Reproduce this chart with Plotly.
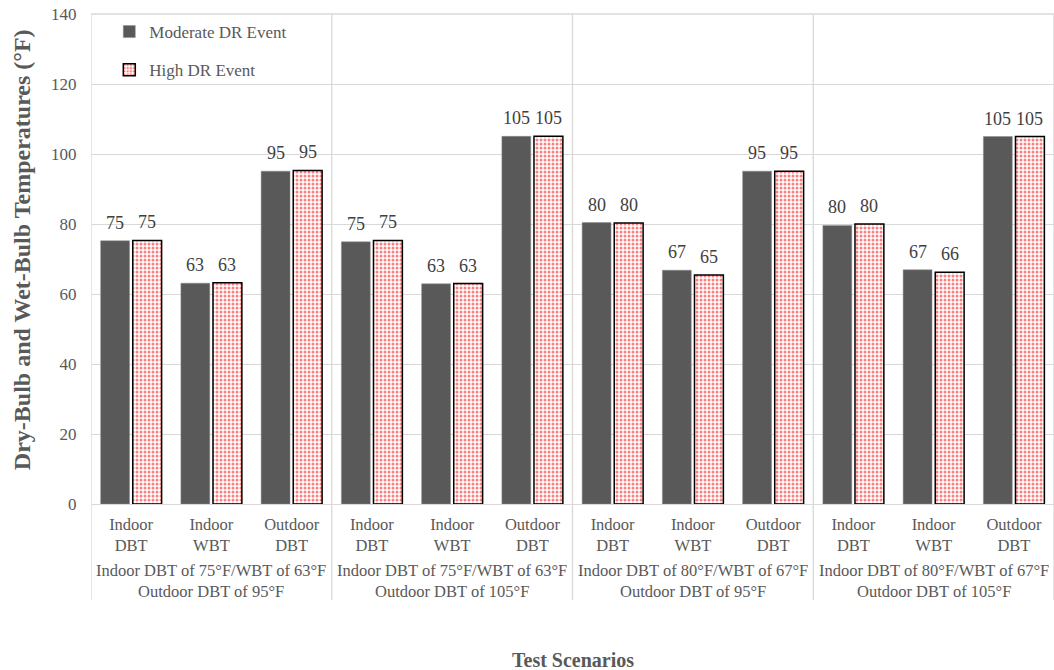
import plotly.graph_objects as go

groups = [
    "Indoor DBT of 75°F/WBT of 63°F<br>Outdoor DBT of 95°F",
    "Indoor DBT of 75°F/WBT of 63°F<br>Outdoor DBT of 105°F",
    "Indoor DBT of 80°F/WBT of 67°F<br>Outdoor DBT of 95°F",
    "Indoor DBT of 80°F/WBT of 67°F<br>Outdoor DBT of 105°F",
]
categories = ["Indoor<br>DBT", "Indoor<br>WBT", "Outdoor<br>DBT"]

moderate = [75.2, 63.1, 95.1, 74.9, 62.9, 105.05, 80.4, 66.8, 95.1, 79.6, 66.9, 105.0]
high = [75.3, 63.2, 95.3, 75.3, 63.0, 105.1, 80.3, 65.4, 95.1, 80.0, 66.2, 105.0]
moderate_labels = ["75", "63", "95", "75", "63", "105", "80", "67", "95", "80", "67", "105"]
high_labels = ["75", "63", "95", "75", "63", "105", "80", "65", "95", "80", "66", "105"]

FONT = "Liberation Serif"
GRAY = "#595959"
GRID = "#d9d9d9"

x = list(range(len(moderate)))
ticktext = categories * len(groups)

fig = go.Figure()
fig.add_trace(go.Bar(
    x=x, y=moderate, name="Moderate DR Event", legendgroup="m",
    marker=dict(color="#595959", line=dict(color="#8c8c8c", width=0.5)),
))
fig.add_trace(go.Bar(
    x=x, y=high, name="High DR Event", legendgroup="h",
    marker=dict(color="white", line=dict(color="black", width=1.5),
                pattern=dict(shape=".", fgcolor="#ff0000", bgcolor="white",
                             size=4, solidity=0.45, fillmode="overlay")),
))

annotations = []
for i, (v, t) in enumerate(zip(moderate, moderate_labels)):
    annotations.append(dict(x=i - 0.2, y=v, xref="x", yref="y", text=t, showarrow=False,
                            yanchor="bottom", yshift=6, font=dict(family=FONT, size=18, color="#404040")))
for i, (v, t) in enumerate(zip(high, high_labels)):
    annotations.append(dict(x=i + 0.2, y=v, xref="x", yref="y", text=t, showarrow=False,
                            yanchor="bottom", yshift=6, font=dict(family=FONT, size=18, color="#404040")))
for g, label in enumerate(groups):
    annotations.append(dict(x=g * 3 + 1, y=-0.158, xref="x", yref="paper", text=label,
                            showarrow=False, yanchor="middle",
                            font=dict(family=FONT, size=16.5, color=GRAY)))
annotations.append(dict(x=0.5, y=-0.318, xref="paper", yref="paper", text="<b>Test Scenarios</b>",
                        showarrow=False, yanchor="middle", font=dict(family=FONT, size=20, color=GRAY)))
annotations.append(dict(x=-0.0717, y=0.52, xref="paper", yref="paper",
                        text="<b>Dry-Bulb and Wet-Bulb Temperatures (°F)</b>", textangle=-90,
                        showarrow=False, xanchor="center", yanchor="middle",
                        font=dict(family=FONT, size=24, color=GRAY)))

shapes = []
for b in [-0.5, 2.5, 5.5, 8.5, 11.5]:
    shapes.append(dict(type="line", xref="x", yref="paper", x0=b, x1=b, y0=-0.196, y1=1,
                       line=dict(color=GRID, width=1.3), layer="below"))
# top gridline at 140
shapes.append(dict(type="line", xref="paper", yref="paper", x0=0, x1=1, y0=1, y1=1,
                   line=dict(color=GRID, width=1.3), layer="below"))

fig.update_layout(
    width=1054, height=670,
    margin=dict(l=91, r=0, t=14, b=166),
    paper_bgcolor="white", plot_bgcolor="white",
    barmode="group", bargap=0.2, bargroupgap=0.1,
    font=dict(family=FONT, color=GRAY),
    showlegend=True,
    legend=dict(x=0.019, y=1.0, xanchor="left", yanchor="top", bgcolor="rgba(0,0,0,0)",
                font=dict(family=FONT, size=17, color=GRAY), tracegroupgap=13,
                itemwidth=30),
    annotations=annotations,
    shapes=shapes,
    xaxis=dict(range=[-0.5, 11.5], tickmode="array", tickvals=x, ticktext=ticktext,
               showgrid=False, zeroline=False, showline=False,
               ticks="outside", ticklen=5, tickcolor="rgba(0,0,0,0)",
               tickfont=dict(family=FONT, size=16.5, color=GRAY)),
    yaxis=dict(range=[0, 140], tickmode="array", tickvals=[0, 20, 40, 60, 80, 100, 120, 140],
               showgrid=True, gridcolor=GRID, gridwidth=1.3,
               zeroline=True, zerolinecolor=GRID, zerolinewidth=1.3, showline=False,
               ticks="outside", ticklen=10, tickcolor="rgba(0,0,0,0)",
               tickfont=dict(family=FONT, size=17, color=GRAY)),
)

fig.write_html("out.html", config={"displayModeBar": False},
               post_script="document.body.style.margin='0';")
